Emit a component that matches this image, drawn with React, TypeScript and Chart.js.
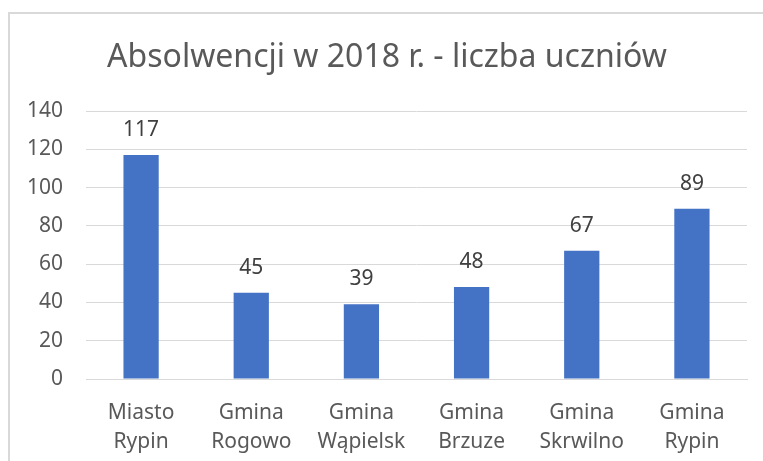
import React, { useEffect, useRef } from "react";
import { Chart, registerables } from "chart.js";

Chart.register(...registerables);

const categories: string[][] = [
  ["Miasto", "Rypin"],
  ["Gmina", "Rogowo"],
  ["Gmina", "Wąpielsk"],
  ["Gmina", "Brzuze"],
  ["Gmina", "Skrwilno"],
  ["Gmina", "Rypin"],
];
const values: number[] = [117, 45, 39, 48, 67, 89];
const titleText = "Absolwencji w 2018 r. - liczba uczniów";
const yMin = 0;
const yMax = 140;
const yStep = 20;

const FONT = "'Noto Sans', sans-serif";
const TEXT = "#595959";
const GRID = "#d9d9d9";
const BAR = "#4472C4";

const borderPlugin = {
  id: "outerBorder",
  beforeDraw(chart: any) {
    const ctx = chart.ctx;
    ctx.save();
    ctx.fillStyle = "#ffffff";
    ctx.fillRect(0, 0, chart.width, chart.height);
    ctx.strokeStyle = GRID;
    ctx.lineWidth = 2;
    ctx.beginPath();
    ctx.moveTo(9, chart.height + 5);
    ctx.lineTo(9, 13);
    ctx.lineTo(chart.width + 5, 13);
    ctx.stroke();
    // title, centred on the outer frame
    ctx.fillStyle = TEXT;
    ctx.font = `32px ${FONT}`;
    ctx.textAlign = "center";
    ctx.textBaseline = "middle";
    ctx.fillText(titleText, (9 + chart.width) / 2 + 1, 58);
    ctx.restore();
  },
};

const valueLabels = {
  id: "valueLabels",
  afterDatasetsDraw(chart: any) {
    const ctx = chart.ctx;
    const meta = chart.getDatasetMeta(0);
    const data = chart.data.datasets[0].data;
    ctx.save();
    ctx.fillStyle = "#404040";
    ctx.font = `21px ${FONT}`;
    ctx.textAlign = "center";
    ctx.textBaseline = "middle";
    meta.data.forEach((el: any, i: number) => {
      ctx.fillText(String(data[i]), el.x, el.y - 25);
    });
    ctx.restore();
  },
};

export default function App() {
  const ref = useRef<HTMLCanvasElement | null>(null);
  useEffect(() => {
    if (!ref.current) return;
    const chart = new Chart(ref.current, {
      type: "bar",
      data: {
        labels: categories,
        datasets: [
          {
            data: values,
            backgroundColor: BAR,
            categoryPercentage: 1,
            barPercentage: 0.32,
          },
        ],
      },
      options: {
        animation: false,
        responsive: false,
        maintainAspectRatio: false,
        layout: { padding: { left: 10, right: 16, top: 111, bottom: 0 } },
        plugins: {
          legend: { display: false },
          tooltip: { enabled: false },
          title: { display: false },
        },
        scales: {
          x: {
            afterFit(scale: any) {
              scale.height = 82;
            },
            grid: { display: false, drawTicks: false },
            border: { display: true, color: GRID, width: 1 },
            ticks: {
              color: TEXT,
              font: { family: FONT, size: 21, lineHeight: 1.36 },
              padding: 20,
              maxRotation: 0,
              autoSkip: false,
            },
          },
          y: {
            min: yMin,
            max: yMax,
            afterFit(scale: any) {
              scale.width = 76;
            },
            grid: { color: GRID, lineWidth: 1, drawTicks: false },
            border: { display: false },
            ticks: {
              stepSize: yStep,
              color: TEXT,
              font: { family: FONT, size: 21 },
              padding: 23,
            },
          },
        },
      },
      plugins: [borderPlugin, valueLabels],
    });
    return () => chart.destroy();
  }, []);
  return (
    <div style={{ position: "absolute", left: 0, top: 0, width: 763, height: 461 }}>
      <canvas ref={ref} width={763} height={461} style={{ display: "block" }} />
    </div>
  );
}
